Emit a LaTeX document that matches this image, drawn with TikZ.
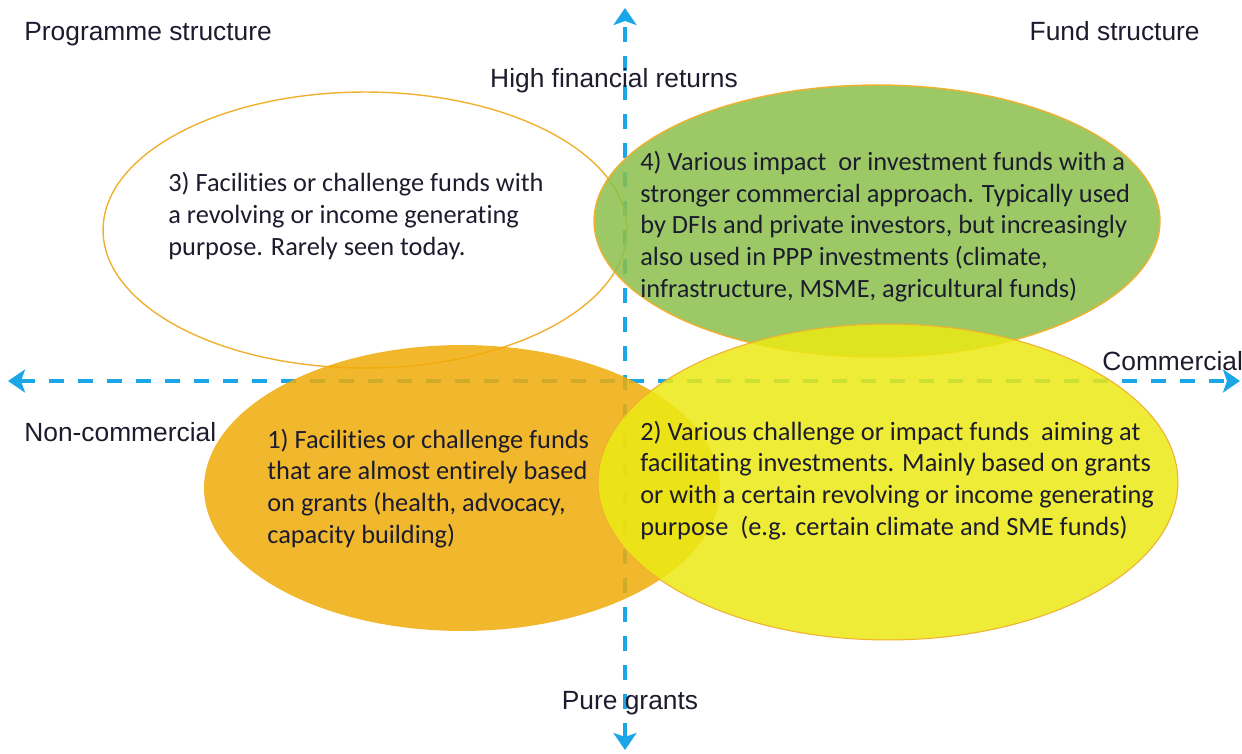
\documentclass[tikz,border=0pt]{standalone}
\usepackage{fontspec}
\setmainfont{Carlito}[Ligatures=NoCommon]
\newfontfamily\labelfont{Liberation Sans}
\usetikzlibrary{arrows.meta,shapes.geometric}
\definecolor{axisblue}{HTML}{1BA6E8}
\definecolor{ellgreen}{HTML}{8BC04B}
\definecolor{ellorange}{HTML}{F0AB08}
\definecolor{ellyellow}{HTML}{EBE914}
\definecolor{edgeorange}{HTML}{F0B030}
\definecolor{txt}{HTML}{1C1C2E}
\tikzset{
  axisline/.style={draw=axisblue, line width=2.2pt, dash pattern=on 0.30cm off 0.28cm,
    {Stealth[length=0.34cm,width=0.46cm,inset=0.08cm]}-{Stealth[length=0.34cm,width=0.46cm,inset=0.08cm]}},
  ell/.style={ellipse, inner sep=0pt, outer sep=0pt},
  bodytext/.style={anchor=base west, inner sep=0pt, align=left, text=txt,
    font=\fontsize{15}{18}\selectfont},
  axislabel/.style={inner sep=0pt, text=txt, font=\labelfont\fontsize{15}{18}\selectfont},
}
\begin{document}
\begin{tikzpicture}[x=0.02cm,y=-0.02cm]
\useasboundingbox (0,0) rectangle (1242,754);
% axes
\coordinate (vtop) at (625,8);
\coordinate (vbot) at (625,750);
\coordinate (hleft) at (8,381);
\coordinate (hright) at (1240,381);
\draw[axisline] (vbot) -- (vtop);
\draw[axisline] (hleft) -- (hright);
% ellipses
\node[ell, draw=edgeorange, line width=0.8pt, minimum width=10.48cm, minimum height=5.52cm] (e3) at (365,230) {};
\node[ell, fill=ellgreen, fill opacity=0.85, draw=edgeorange, line width=0.8pt, minimum width=11.32cm, minimum height=5.44cm] (e4) at (877,221) {};
\node[ell, fill=ellorange, fill opacity=0.85, minimum width=10.32cm, minimum height=5.72cm] (e1) at (462,488) {};
\node[ell, fill=ellyellow, fill opacity=0.85, draw=edgeorange, line width=0.6pt, minimum width=11.6cm, minimum height=6.32cm] (e2) at (888,482) {};
% body texts (anchor = baseline of last line)
\node[bodytext] (t3) at (168,255) {3) Facilities or challenge funds with\\a revolving or income generating\\purpose. Rarely seen today.};
\node[bodytext] (t4) at (640,297) {4) Various impact\ \ or investment funds with a\\stronger commercial approach. Typically used\\by DFIs and private investors, but increasingly\\also used in PPP investments (climate,\\infrastructure, MSME, agricultural funds)};
\node[bodytext] (t1) at (267,543) {1) Facilities or challenge funds\\that are almost entirely based\\on grants (health, advocacy,\\capacity building)};
\node[bodytext] (t2) at (640,535) {2) Various challenge or impact funds\ \ aiming at\\facilitating investments. Mainly based on grants\\or with a certain revolving or income generating\\purpose\ \ (e.g. certain climate and SME funds)};
% axis labels
\node[axislabel, anchor=base west] (prog) at (24,40) {Programme structure};
\node[axislabel, anchor=base east] (fund) at (1200,40) {Fund structure};
\node[axislabel, anchor=base] (high) at (614,87) {High financial returns};
\node[axislabel, anchor=base west] (comm) at (1102,370) {Commercial};
\node[axislabel, anchor=base west] (noncomm) at (24,441) {Non-commercial};
\node[axislabel, anchor=base] (pure) at (630,709) {Pure grants};
\end{tikzpicture}
\end{document}
